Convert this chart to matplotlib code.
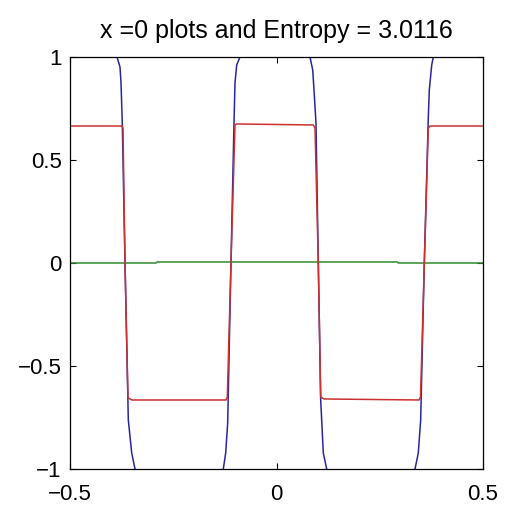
import matplotlib
matplotlib.use("Agg")
import matplotlib.pyplot as plt
import numpy as np

# curva roja
x_rojo = [-0.5, -0.3741, -0.3717, -0.3668, -0.3596, -0.3499,
          -0.1223, -0.1191, -0.1102, -0.1005, -0.0964,
          0.0891, 0.0932, 0.1012, 0.1070, 0.1150,
          0.3450, 0.3487, 0.3579, 0.3676, 0.3717, 0.5]
y_rojo = [0.665, 0.665, 0.655, 0.0, -0.655, -0.665,
          -0.665, -0.650, 0.0, 0.670, 0.675,
          0.670, 0.655, 0.0, -0.650, -0.660,
          -0.665, -0.650, 0.0, 0.655, 0.665, 0.665]

# curva azul (se sale de [-1, 1] entre transiciones)
x_azul = [-0.5, -0.395, -0.3862, -0.3789, -0.3765, -0.3734, -0.3668, -0.3588, -0.3506, -0.3426, -0.335,
          -0.136, -0.1288, -0.1230, -0.1182, -0.1167, -0.1102, -0.1029, -0.1005, -0.0964, -0.0884, -0.081,
          0.073, 0.0811, 0.0877, 0.0908, 0.0956, 0.1012, 0.1070, 0.1094, 0.1133, 0.1215, 0.129,
          0.328, 0.3354, 0.3433, 0.3491, 0.3579, 0.3676, 0.3700, 0.3758, 0.3797, 0.387, 0.5]
y_azul = [1.06, 1.06, 1.0, 0.951, 0.874, 0.680, 0.0, -0.762, -0.922, -1.0, -1.06,
          -1.06, -1.0, -0.922, -0.777, -0.631, 0.0, 0.680, 0.874, 0.961, 1.0, 1.06,
          1.06, 1.0, 0.937, 0.840, 0.680, 0.0, -0.665, -0.762, -0.922, -1.0, -1.06,
          -1.06, -1.0, -0.922, -0.762, 0.0, 0.709, 0.840, 0.961, 1.0, 1.06, 1.06]

# curva verde (casi cero)
x_verde = [-0.5, -0.2918, -0.2894, 0.2925, 0.2949, 0.5]
y_verde = [0.0, 0.0, 0.005, 0.005, 0.0, 0.0]

entropia = 3.0116

plt.rcParams['font.family'] = ['Liberation Sans', 'DejaVu Sans']

fig = plt.figure(figsize=(5.13, 5.08), dpi=100)
ax = fig.add_axes([70/513, 39/508, 413/513, 412/508])

ax.plot(x_azul, y_azul, color='#26269e', lw=1.1)
ax.plot(x_verde, y_verde, color='#2e8b2e', lw=1.1)
ax.plot(x_rojo, y_rojo, color='#cc3030', lw=1.1)

ax.set_xlim(-0.5, 0.5)
ax.set_ylim(-1, 1)
ax.set_xticks([-0.5, 0, 0.5])
ax.set_xticklabels(['\u22120.5', '0', '0.5'])
ax.set_yticks([-1, -0.5, 0, 0.5, 1])
ax.set_yticklabels(['\u22121', '\u22120.5', '0', '0.5', '1'])
ax.tick_params(direction='in', length=4, width=0.8, top=True, right=True,
               labelsize=16)
ax.tick_params(axis='x', pad=11)
ax.tick_params(axis='y', pad=6)
for s in ax.spines.values():
    s.set_linewidth(0.9)

ax.set_title('x =0 plots and Entropy = %.4f' % entropia, fontsize=18, pad=14)

fig.savefig('out.png', dpi=100)
